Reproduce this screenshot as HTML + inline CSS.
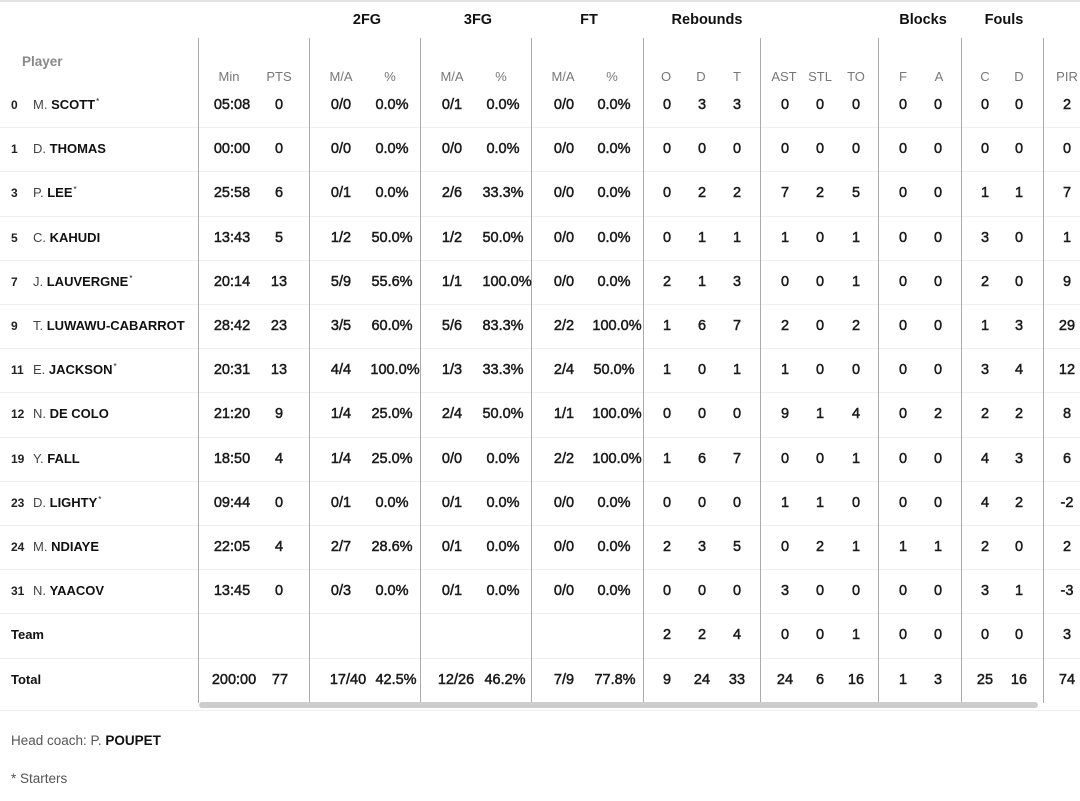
<!DOCTYPE html>
<html><head><meta charset="utf-8">
<style>
html,body{margin:0;padding:0;background:#fff;}
body{width:1080px;height:801px;position:relative;overflow:hidden;font-family:"Liberation Sans",Arial,sans-serif;color:#1a1a1a;}
.topl{position:absolute;left:0;top:0;width:1080px;height:2px;background:#e3e3e3;}
.v{position:absolute;top:38px;height:665px;width:1px;background:#ababab;}
.h{position:absolute;left:0;width:1080px;height:1px;background:#efefef;}
.g{position:absolute;top:10px;height:20px;line-height:20px;font-size:14.5px;font-weight:bold;color:#111;width:100px;margin-left:-50px;text-align:center;}
.s{position:absolute;top:67px;height:20px;line-height:20px;font-size:13px;color:#777;width:60px;margin-left:-30px;text-align:center;}
.r{position:absolute;left:0;width:1080px;height:20px;line-height:20px;}
.c{position:absolute;top:0;width:70px;margin-left:-35px;text-align:center;font-size:14.5px;color:#1a1a1a;-webkit-text-stroke:0.5px #1a1a1a;white-space:nowrap;}
.n{position:absolute;left:11px;top:0;font-size:12px;font-weight:bold;color:#222;}
.nm{position:absolute;left:33px;top:0;font-size:13px;color:#444;white-space:nowrap;}
.nm b{color:#111;font-weight:bold;}
.nm sup{font-size:8px;vertical-align:top;position:relative;top:-3px;margin-left:1px;color:#111;}
.tl{position:absolute;left:11px;top:0;font-size:13px;font-weight:bold;color:#111;}
.k1{left:232px}.k2{left:279px}.k3{left:341px}.k4{left:392px}.k5{left:452px}.k6{left:503px}.k7{left:564px}.k8{left:614px}
.k9{left:667px}.k10{left:702px}.k11{left:737px}.k12{left:785px}.k13{left:820px}.k14{left:856px}.k15{left:903px}.k16{left:938px}.k17{left:985px}.k18{left:1019px}.k19{left:1067px}
.sb{position:absolute;left:199px;top:702px;width:839px;height:6px;border-radius:3px;background:#cdcdcd;}
.ft{position:absolute;left:11px;font-size:13.5px;color:#555;white-space:nowrap;height:20px;line-height:20px;}
.ft b{color:#111;}
</style></head><body>
<div class="topl"></div>

<div class="g" style="left:367px">2FG</div>
<div class="g" style="left:478px">3FG</div>
<div class="g" style="left:589px">FT</div>
<div class="g" style="left:707px">Rebounds</div>
<div class="g" style="left:923px">Blocks</div>
<div class="g" style="left:1004px">Fouls</div>

<div style="position:absolute;left:22px;top:52px;height:20px;line-height:20px;font-size:13.5px;font-weight:bold;color:#888;">Player</div>
<div class="s" style="left:229px">Min</div>
<div class="s" style="left:279px">PTS</div>
<div class="s" style="left:341px">M/A</div>
<div class="s" style="left:390px">%</div>
<div class="s" style="left:452px">M/A</div>
<div class="s" style="left:501px">%</div>
<div class="s" style="left:563px">M/A</div>
<div class="s" style="left:612px">%</div>
<div class="s" style="left:666px">O</div>
<div class="s" style="left:701px">D</div>
<div class="s" style="left:737px">T</div>
<div class="s" style="left:784px">AST</div>
<div class="s" style="left:820px">STL</div>
<div class="s" style="left:856px">TO</div>
<div class="s" style="left:903px">F</div>
<div class="s" style="left:939px">A</div>
<div class="s" style="left:985px">C</div>
<div class="s" style="left:1019px">D</div>
<div class="s" style="left:1067px">PIR</div>

<div class="h" style="top:127px"></div>
<div class="h" style="top:171px"></div>
<div class="h" style="top:216px"></div>
<div class="h" style="top:260px"></div>
<div class="h" style="top:304px"></div>
<div class="h" style="top:348px"></div>
<div class="h" style="top:392px"></div>
<div class="h" style="top:437px"></div>
<div class="h" style="top:481px"></div>
<div class="h" style="top:525px"></div>
<div class="h" style="top:569px"></div>
<div class="h" style="top:613px"></div>
<div class="h" style="top:658px"></div>
<div class="h" style="top:710px"></div>

<div class="v" style="left:198px"></div>
<div class="v" style="left:309px"></div>
<div class="v" style="left:420px"></div>
<div class="v" style="left:531px"></div>
<div class="v" style="left:643px"></div>
<div class="v" style="left:760px"></div>
<div class="v" style="left:878px"></div>
<div class="v" style="left:961px"></div>
<div class="v" style="left:1043px"></div>

<div class="r" style="top:95px"><span class="n">0</span><span class="nm">M. <b>SCOTT</b><sup>*</sup></span>
<span class="c k1">05:08</span><span class="c k2">0</span><span class="c k3">0/0</span><span class="c k4">0.0%</span><span class="c k5">0/1</span><span class="c k6">0.0%</span><span class="c k7">0/0</span><span class="c k8">0.0%</span><span class="c k9">0</span><span class="c k10">3</span><span class="c k11">3</span><span class="c k12">0</span><span class="c k13">0</span><span class="c k14">0</span><span class="c k15">0</span><span class="c k16">0</span><span class="c k17">0</span><span class="c k18">0</span><span class="c k19">2</span></div>

<div class="r" style="top:139.2px"><span class="n">1</span><span class="nm">D. <b>THOMAS</b></span>
<span class="c k1">00:00</span><span class="c k2">0</span><span class="c k3">0/0</span><span class="c k4">0.0%</span><span class="c k5">0/0</span><span class="c k6">0.0%</span><span class="c k7">0/0</span><span class="c k8">0.0%</span><span class="c k9">0</span><span class="c k10">0</span><span class="c k11">0</span><span class="c k12">0</span><span class="c k13">0</span><span class="c k14">0</span><span class="c k15">0</span><span class="c k16">0</span><span class="c k17">0</span><span class="c k18">0</span><span class="c k19">0</span></div>

<div class="r" style="top:183.4px"><span class="n">3</span><span class="nm">P. <b>LEE</b><sup>*</sup></span>
<span class="c k1">25:58</span><span class="c k2">6</span><span class="c k3">0/1</span><span class="c k4">0.0%</span><span class="c k5">2/6</span><span class="c k6">33.3%</span><span class="c k7">0/0</span><span class="c k8">0.0%</span><span class="c k9">0</span><span class="c k10">2</span><span class="c k11">2</span><span class="c k12">7</span><span class="c k13">2</span><span class="c k14">5</span><span class="c k15">0</span><span class="c k16">0</span><span class="c k17">1</span><span class="c k18">1</span><span class="c k19">7</span></div>

<div class="r" style="top:227.6px"><span class="n">5</span><span class="nm">C. <b>KAHUDI</b></span>
<span class="c k1">13:43</span><span class="c k2">5</span><span class="c k3">1/2</span><span class="c k4">50.0%</span><span class="c k5">1/2</span><span class="c k6">50.0%</span><span class="c k7">0/0</span><span class="c k8">0.0%</span><span class="c k9">0</span><span class="c k10">1</span><span class="c k11">1</span><span class="c k12">1</span><span class="c k13">0</span><span class="c k14">1</span><span class="c k15">0</span><span class="c k16">0</span><span class="c k17">3</span><span class="c k18">0</span><span class="c k19">1</span></div>

<div class="r" style="top:271.8px"><span class="n">7</span><span class="nm">J. <b>LAUVERGNE</b><sup>*</sup></span>
<span class="c k1">20:14</span><span class="c k2">13</span><span class="c k3">5/9</span><span class="c k4">55.6%</span><span class="c k5">1/1</span><span class="c k6" style="left:507px">100.0%</span><span class="c k7">0/0</span><span class="c k8">0.0%</span><span class="c k9">2</span><span class="c k10">1</span><span class="c k11">3</span><span class="c k12">0</span><span class="c k13">0</span><span class="c k14">1</span><span class="c k15">0</span><span class="c k16">0</span><span class="c k17">2</span><span class="c k18">0</span><span class="c k19">9</span></div>

<div class="r" style="top:316px"><span class="n">9</span><span class="nm">T. <b>LUWAWU-CABARROT</b></span>
<span class="c k1">28:42</span><span class="c k2">23</span><span class="c k3">3/5</span><span class="c k4">60.0%</span><span class="c k5">5/6</span><span class="c k6">83.3%</span><span class="c k7">2/2</span><span class="c k8" style="left:617px">100.0%</span><span class="c k9">1</span><span class="c k10">6</span><span class="c k11">7</span><span class="c k12">2</span><span class="c k13">0</span><span class="c k14">2</span><span class="c k15">0</span><span class="c k16">0</span><span class="c k17">1</span><span class="c k18">3</span><span class="c k19">29</span></div>

<div class="r" style="top:360.2px"><span class="n">11</span><span class="nm">E. <b>JACKSON</b><sup>*</sup></span>
<span class="c k1">20:31</span><span class="c k2">13</span><span class="c k3">4/4</span><span class="c k4" style="left:395px">100.0%</span><span class="c k5">1/3</span><span class="c k6">33.3%</span><span class="c k7">2/4</span><span class="c k8">50.0%</span><span class="c k9">1</span><span class="c k10">0</span><span class="c k11">1</span><span class="c k12">1</span><span class="c k13">0</span><span class="c k14">0</span><span class="c k15">0</span><span class="c k16">0</span><span class="c k17">3</span><span class="c k18">4</span><span class="c k19">12</span></div>

<div class="r" style="top:404.4px"><span class="n">12</span><span class="nm">N. <b>DE COLO</b></span>
<span class="c k1">21:20</span><span class="c k2">9</span><span class="c k3">1/4</span><span class="c k4">25.0%</span><span class="c k5">2/4</span><span class="c k6">50.0%</span><span class="c k7">1/1</span><span class="c k8" style="left:617px">100.0%</span><span class="c k9">0</span><span class="c k10">0</span><span class="c k11">0</span><span class="c k12">9</span><span class="c k13">1</span><span class="c k14">4</span><span class="c k15">0</span><span class="c k16">2</span><span class="c k17">2</span><span class="c k18">2</span><span class="c k19">8</span></div>

<div class="r" style="top:448.6px"><span class="n">19</span><span class="nm">Y. <b>FALL</b></span>
<span class="c k1">18:50</span><span class="c k2">4</span><span class="c k3">1/4</span><span class="c k4">25.0%</span><span class="c k5">0/0</span><span class="c k6">0.0%</span><span class="c k7">2/2</span><span class="c k8" style="left:617px">100.0%</span><span class="c k9">1</span><span class="c k10">6</span><span class="c k11">7</span><span class="c k12">0</span><span class="c k13">0</span><span class="c k14">1</span><span class="c k15">0</span><span class="c k16">0</span><span class="c k17">4</span><span class="c k18">3</span><span class="c k19">6</span></div>

<div class="r" style="top:492.8px"><span class="n">23</span><span class="nm">D. <b>LIGHTY</b><sup>*</sup></span>
<span class="c k1">09:44</span><span class="c k2">0</span><span class="c k3">0/1</span><span class="c k4">0.0%</span><span class="c k5">0/1</span><span class="c k6">0.0%</span><span class="c k7">0/0</span><span class="c k8">0.0%</span><span class="c k9">0</span><span class="c k10">0</span><span class="c k11">0</span><span class="c k12">1</span><span class="c k13">1</span><span class="c k14">0</span><span class="c k15">0</span><span class="c k16">0</span><span class="c k17">4</span><span class="c k18">2</span><span class="c k19">-2</span></div>

<div class="r" style="top:537px"><span class="n">24</span><span class="nm">M. <b>NDIAYE</b></span>
<span class="c k1">22:05</span><span class="c k2">4</span><span class="c k3">2/7</span><span class="c k4">28.6%</span><span class="c k5">0/1</span><span class="c k6">0.0%</span><span class="c k7">0/0</span><span class="c k8">0.0%</span><span class="c k9">2</span><span class="c k10">3</span><span class="c k11">5</span><span class="c k12">0</span><span class="c k13">2</span><span class="c k14">1</span><span class="c k15">1</span><span class="c k16">1</span><span class="c k17">2</span><span class="c k18">0</span><span class="c k19">2</span></div>

<div class="r" style="top:581.2px"><span class="n">31</span><span class="nm">N. <b>YAACOV</b></span>
<span class="c k1">13:45</span><span class="c k2">0</span><span class="c k3">0/3</span><span class="c k4">0.0%</span><span class="c k5">0/1</span><span class="c k6">0.0%</span><span class="c k7">0/0</span><span class="c k8">0.0%</span><span class="c k9">0</span><span class="c k10">0</span><span class="c k11">0</span><span class="c k12">3</span><span class="c k13">0</span><span class="c k14">0</span><span class="c k15">0</span><span class="c k16">0</span><span class="c k17">3</span><span class="c k18">1</span><span class="c k19">-3</span></div>

<div class="r" style="top:625.4px"><span class="tl">Team</span>
<span class="c k9">2</span><span class="c k10">2</span><span class="c k11">4</span><span class="c k12">0</span><span class="c k13">0</span><span class="c k14">1</span><span class="c k15">0</span><span class="c k16">0</span><span class="c k17">0</span><span class="c k18">0</span><span class="c k19">3</span></div>

<div class="r" style="top:669.6px"><span class="tl">Total</span>
<span class="c" style="left:234px">200:00</span><span class="c" style="left:280px">77</span><span class="c" style="left:348px">17/40</span><span class="c k4" style="left:396px">42.5%</span><span class="c" style="left:456px">12/26</span><span class="c" style="left:505px">46.2%</span><span class="c k7">7/9</span><span class="c" style="left:615px">77.8%</span><span class="c k9">9</span><span class="c k10">24</span><span class="c k11">33</span><span class="c k12">24</span><span class="c k13">6</span><span class="c k14">16</span><span class="c k15">1</span><span class="c k16">3</span><span class="c k17">25</span><span class="c k18">16</span><span class="c k19">74</span></div>

<div class="sb"></div>

<div class="ft" style="top:731px">Head coach: P. <b>POUPET</b></div>
<div class="ft" style="top:769px">* Starters</div>
</body></html>
